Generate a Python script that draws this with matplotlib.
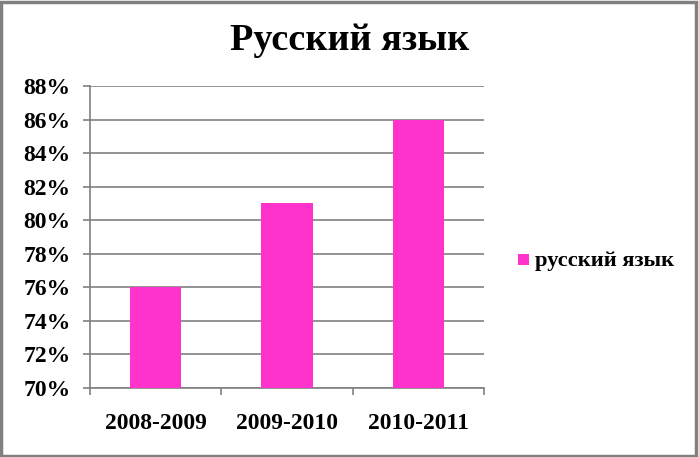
import matplotlib
matplotlib.use("Agg")
import matplotlib.pyplot as plt
from matplotlib.patches import Rectangle
from matplotlib.ticker import FuncFormatter, MultipleLocator

categories = ["2008-2009", "2009-2010", "2010-2011"]
values = [76, 81, 86]
series_name = "русский язык"
title = "Русский язык"

W, H, DPI = 699, 457, 100
fig = plt.figure(figsize=(W / DPI, H / DPI), dpi=DPI)
plt.rcParams['font.family'] = ['Liberation Serif', 'DejaVu Serif']

# plot area in pixels: x 90..484, y 86..388 (from top)
left, right, top, bottom = 90, 484, 86, 388
ax = fig.add_axes([left / W, 1 - bottom / H, (right - left) / W, (bottom - top) / H])

color = "#FF33CC"
x = range(len(categories))
ax.bar(x, [v - 70 for v in values], bottom=70, width=0.39, color=color, zorder=3, label=series_name)
ax.set_xlim(-0.5, len(categories) - 0.5)
ax.set_ylim(70, 88)
ax.yaxis.set_major_locator(MultipleLocator(2))
ax.yaxis.set_major_formatter(FuncFormatter(lambda v, p: f"{v:.0f}%"))
ax.grid(axis="y", color="#808080", linewidth=1.2, zorder=0)
ax.set_xticks([-0.5, 0.5, 1.5, 2.5])
ax.set_xticklabels([])
ax.set_xticks(list(x), minor=True)
ax.set_xticklabels(categories, minor=True, fontsize=17, fontweight="bold")
ax.tick_params(axis="x", which="minor", length=0, pad=18)
ax.tick_params(axis="x", which="major", length=5, color="#808080", width=1.2, direction="out")
ax.tick_params(axis="y", length=5, color="#808080", width=1.2, labelsize=17, pad=9)
for lbl in ax.get_yticklabels():
    lbl.set_fontweight("bold")
for s in ["top", "right"]:
    ax.spines[s].set_visible(False)
for s in ["left", "bottom"]:
    ax.spines[s].set_color("#808080")
    ax.spines[s].set_linewidth(1.2)

fig.text(350 / W, 1 - 41 / H, title, ha="center", va="center", fontsize=27.5, fontweight="bold")

# legend
fig.patches.append(Rectangle((518 / W, 1 - 265 / H), 11 / W, 11 / H, transform=fig.transFigure,
                             facecolor=color, edgecolor="none"))
fig.text(535 / W, 1 - 261 / H, series_name, ha="left", va="center", fontsize=16.2, fontweight="bold")

# outer border
fig.patches.append(Rectangle((1 / W, 1 / H), 695 / W, 454 / H, transform=fig.transFigure,
                             facecolor="none", edgecolor="#808080", linewidth=2.5))

fig.savefig("out.png", dpi=DPI)
